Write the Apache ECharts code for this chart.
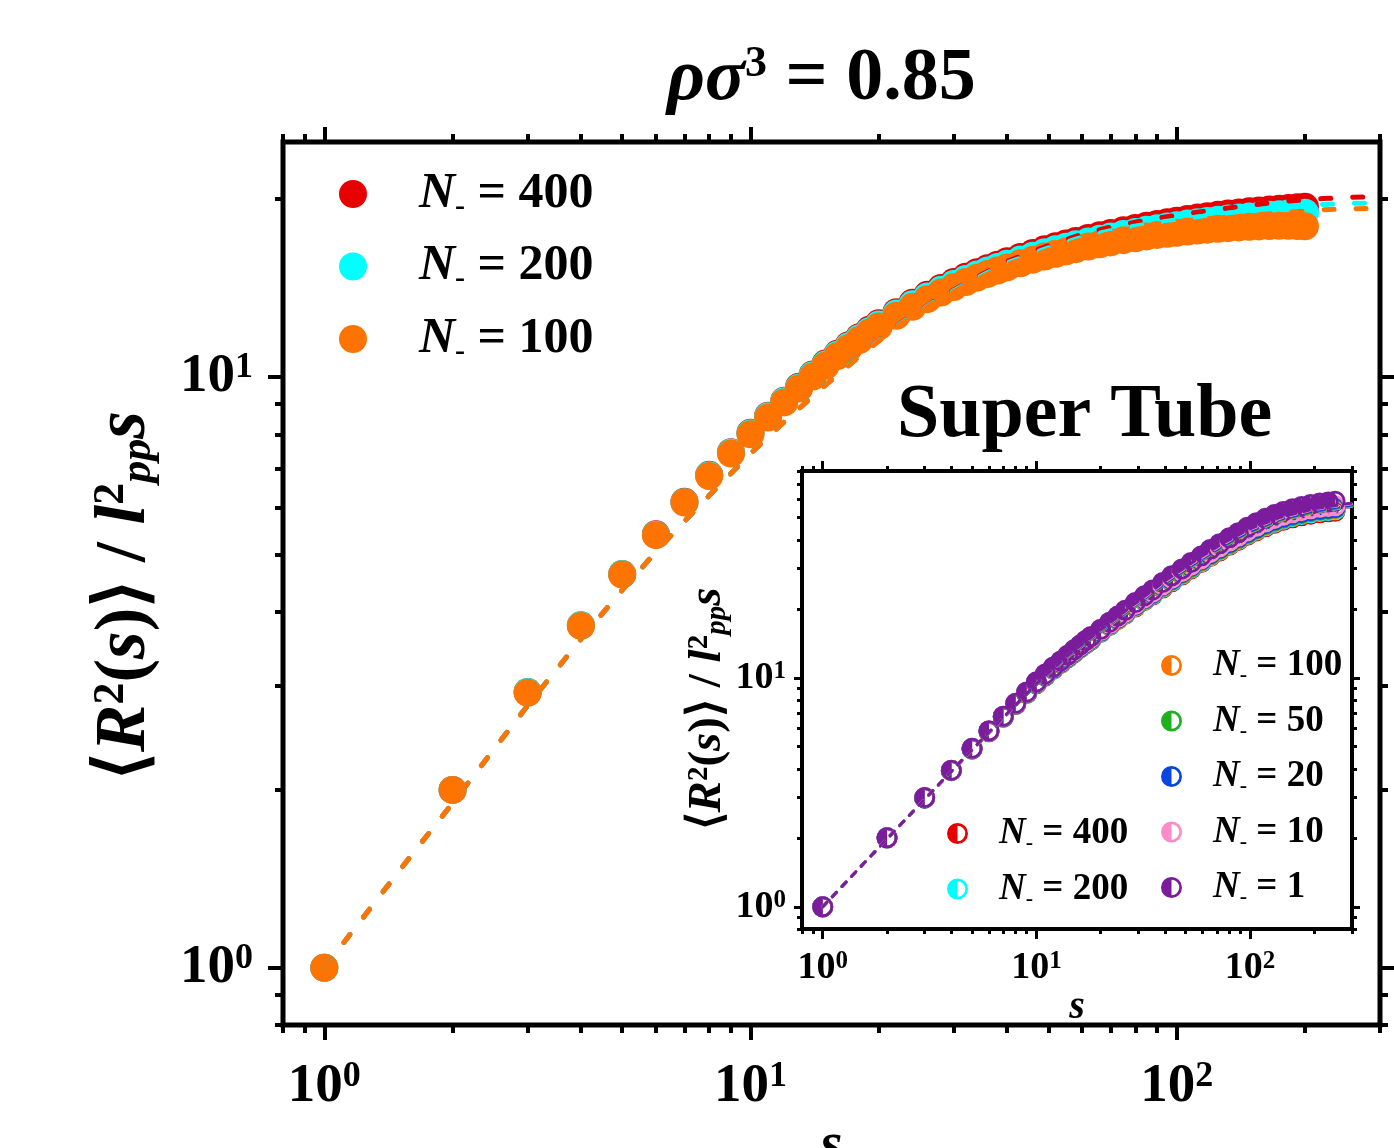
<!DOCTYPE html>
<html>
<head>
<meta charset="utf-8">
<script src="https://cdn.jsdelivr.net/npm/echarts@6/dist/echarts.min.js"></script>
<style>
  html, body { margin: 0; padding: 0; background: #fff; }
  #main { width: 1394px; height: 1148px; }
</style>
</head>
<body>
<div id="main"></div>
<script>
// ---- main panel data (s, <R^2(s)>/l^2 s) ----
var sMain = [1,2,3,4,5,6,7,8,9,10,11,12,13,14,15,16,17,18,19,20,22,24,26,28,30,32,34,36,38,40,43,46,49,52,55,58,62,66,70,75,80,85,90,95,100,106,112,118,125,132,140,148,156,165,174,183,192,200];
var n400Main = [1.00,2.00,2.93,3.80,4.64,5.42,6.15,6.83,7.46,8.05,8.60,9.12,9.63,10.1,10.54,10.95,11.32,11.68,12.02,12.33,12.88,13.36,13.78,14.15,14.48,14.78,15.05,15.29,15.5,15.7,15.97,16.22,16.45,16.65,16.83,17.0,17.2,17.38,17.54,17.72,17.88,18.03,18.16,18.28,18.39,18.51,18.62,18.72,18.82,18.91,19.0,19.08,19.15,19.22,19.28,19.33,19.38,19.42];
var n200Main = [1.00,2.00,2.93,3.80,4.64,5.41,6.14,6.82,7.45,8.03,8.58,9.1,9.6,10.07,10.5,10.91,11.28,11.63,11.96,12.27,12.81,13.28,13.69,14.05,14.37,14.66,14.92,15.15,15.36,15.55,15.81,16.05,16.26,16.45,16.62,16.78,16.97,17.14,17.29,17.46,17.61,17.75,17.87,17.98,18.08,18.19,18.29,18.38,18.47,18.55,18.63,18.7,18.76,18.82,18.87,18.91,18.95,18.98];
var n100Main = [1.00,2.00,2.92,3.79,4.63,5.40,6.13,6.80,7.42,8.00,8.54,9.06,9.56,10.02,10.45,10.85,11.2,11.55,11.88,12.18,12.7,13.15,13.55,13.9,14.2,14.48,14.73,14.95,15.15,15.33,15.58,15.8,16.0,16.17,16.32,16.46,16.63,16.78,16.9,17.05,17.18,17.3,17.4,17.48,17.55,17.63,17.7,17.76,17.82,17.87,17.92,17.96,17.99,18.02,18.03,18.03,18.02,18.0];

// dashed fits, main panel
var sFit = [1,1.5,2,3,4,5,6,7,8,10,12,15,18,22,27,33,40,50,60,70,85,100,120,150,180,220,260,300];
var fit400 = [1.0,1.46,1.9,2.78,3.6,4.36,5.06,5.7,6.3,7.42,8.4,9.7,10.85,12.2,13.45,14.6,15.7,16.7,17.45,17.95,18.45,18.8,19.15,19.55,19.85,20.05,20.15,20.2];
var fit200 = [1.0,1.46,1.9,2.78,3.6,4.36,5.06,5.7,6.3,7.42,8.4,9.7,10.84,12.18,13.42,14.55,15.6,16.55,17.25,17.7,18.15,18.45,18.8,19.15,19.4,19.6,19.68,19.72];
var fit100 = [1.0,1.46,1.9,2.78,3.6,4.36,5.06,5.7,6.3,7.42,8.4,9.69,10.82,12.15,13.38,14.48,15.5,16.4,17.1,17.5,17.9,18.15,18.45,18.8,19.0,19.2,19.27,19.3];

// ---- inset (Super Tube) data ----
var sIn = [1,2,3,4,5,6,7,8,9,10,11,12,13,14,15,16,17,18,20,22,24,26,29,32,35,39,43,48,53,59,65,72,80,88,97,107,118,130,143,158,174,192,212,232,250];
var in400 = [1.0,2.0,2.99,3.93,4.88,5.81,6.72,7.64,8.54,9.42,10.18,10.89,11.56,12.21,12.86,13.47,14.07,14.63,15.8,16.92,17.94,18.93,20.38,21.72,22.98,24.68,26.25,28.08,29.9,31.85,33.85,35.8,37.9,39.8,41.9,43.8,45.65,47.3,48.75,49.95,50.95,51.85,52.6,53.05,53.4];
var in200 = [1.0,2.0,2.99,3.93,4.89,5.82,6.74,7.66,8.56,9.45,10.22,10.93,11.6,12.26,12.91,13.53,14.13,14.7,15.88,17.0,18.02,19.03,20.5,21.86,23.13,24.85,26.45,28.3,30.15,32.1,34.1,36.05,38.15,40.1,42.2,44.2,46.1,47.8,49.3,50.55,51.6,52.55,53.3,53.8,54.2];
var in100 = [1.0,2.0,2.99,3.93,4.9,5.83,6.75,7.67,8.58,9.48,10.25,10.97,11.64,12.3,12.96,13.58,14.19,14.76,15.94,17.07,18.1,19.12,20.6,21.98,23.27,25.0,26.62,28.5,30.35,32.3,34.35,36.3,38.45,40.4,42.55,44.55,46.45,48.2,49.7,51.0,52.05,53.05,53.85,54.35,54.8];
var in50 = [1.0,2.0,2.99,3.94,4.9,5.84,6.76,7.69,8.6,9.5,10.28,11.0,11.67,12.33,13.0,13.62,14.23,14.8,15.98,17.12,18.15,19.18,20.68,22.07,23.36,25.12,26.76,28.64,30.5,32.5,34.55,36.55,38.7,40.65,42.8,44.8,46.75,48.5,50.0,51.3,52.35,53.35,54.15,54.65,55.1];
var in20 = [1.0,2.0,2.99,3.94,4.91,5.85,6.77,7.7,8.62,9.52,10.3,11.03,11.7,12.37,13.04,13.66,14.28,14.85,16.05,17.2,18.25,19.3,20.8,22.2,23.5,25.3,26.95,28.85,30.75,32.75,34.8,36.8,39.0,40.95,43.1,45.1,47.1,48.85,50.35,51.7,52.7,53.7,54.5,55.0,55.45];
var in10 = [1.0,2.0,3.0,3.95,4.92,5.86,6.79,7.73,8.65,9.56,10.35,11.08,11.76,12.44,13.12,13.75,14.37,14.95,16.1,17.26,18.32,19.38,20.92,22.35,23.7,25.5,27.2,29.15,31.05,33.05,35.2,37.3,39.55,41.55,43.8,45.85,47.85,49.65,51.25,52.6,53.7,54.7,55.5,56.0,56.35];
var in1 = [1.0,2.0,3.0,3.95,4.92,5.87,6.8,7.75,8.68,9.6,10.4,11.15,11.85,12.55,13.25,13.9,14.55,15.15,16.3,17.5,18.6,19.7,21.3,22.8,24.2,26.1,27.9,29.9,31.9,34.0,36.3,38.5,40.9,43.0,45.4,47.6,49.7,51.6,53.3,54.8,56.0,57.1,58.0,58.6,59.0];

var sFitIn = [1,2,3,5,7,10,14,20,28,40,55,75,100,140,200,300];
var fitIn400 = [1,1.98,2.94,4.83,6.66,9.33,12.28,15.8,19.95,25.6,31.2,37.3,43.1,48.6,52.8,56.0];
var fitIn200 = [1,1.98,2.95,4.84,6.67,9.34,12.3,15.85,20.0,25.65,31.25,37.4,43.2,48.7,52.9,56.1];
var fitIn100 = [1,1.98,2.95,4.84,6.68,9.35,12.33,15.9,20.1,25.7,31.35,37.55,43.35,48.9,53.1,56.35];
var fitIn50 = [1,1.98,2.95,4.84,6.68,9.36,12.35,15.95,20.15,25.8,31.45,37.7,43.55,49.1,53.3,56.6];
var fitIn20 = [1,1.98,2.95,4.85,6.69,9.38,12.4,16.0,20.25,25.9,31.6,37.9,43.8,49.4,53.6,56.9];
var fitIn10 = [1,1.98,2.95,4.85,6.7,9.4,12.45,16.1,20.4,26.2,32.0,38.4,44.4,50.0,54.3,57.6];
var fitIn1 = [1,1.98,2.95,4.86,6.72,9.42,12.5,16.2,20.6,26.5,32.4,38.8,44.8,50.4,54.7,58.0];

// tick positions
var xMajor = [1, 10, 100];
var xMinor = [0.8,0.9,2,3,4,5,6,7,8,9,20,30,40,50,60,70,80,90,200,300];
var yMajor = [1, 10];
var yMinorMain = [0.8,0.9,2,3,4,5,6,7,8,9,20];
var yMinorIn = [0.8,0.9,2,3,4,5,6,7,8,9,20,30,40,50,60,70,80];

var RED = '#e60000', CYAN = '#00ffff', ORANGE = '#ff7300', GREEN = '#1fb01f',
    BLUE = '#0a45e0', PINK = '#ff8cc8', PURPLE = '#7a1c9c';
var serif = 'Liberation Serif';
var halfIcon = 'path://M0,-10A10,10,0,1,1,0,10A10,10,0,1,1,0,-10ZM0,-7.4A7.4,7.4,0,1,0,0,7.4A7.4,7.4,0,1,0,0,-7.4ZM0,-7.4A7.4,7.4,0,0,0,0,7.4Z';

function pairs(xs, ys) {
  return xs.map(function (x, i) { return [x, ys[i]]; });
}
function supLabel(v) {
  return '{b|10}{p|' + Math.round(Math.log10(v)) + '}';
}

// two stacked axes per side: long major ticks (+labels) and short minor ticks
function sideAxes(grid, pos, min, max, major, minor, len, w, label, name) {
  var base = {
    type: 'log', logBase: 10, gridIndex: grid, position: pos, min: min, max: max,
    axisLine: { show: false }, splitLine: { show: false }, z: grid ? 9 : 3
  };
  var a = Object.assign({}, base, {
    axisTick: { show: true, customValues: major, length: len[0], lineStyle: { color: '#000', width: w } },
    axisLabel: label ? Object.assign({ customValues: major, formatter: supLabel }, label) : { show: false }
  });
  if (name) Object.assign(a, name);
  var b = Object.assign({}, base, {
    axisTick: { show: true, customValues: minor, length: len[1], lineStyle: { color: '#000', width: w } },
    axisLabel: { show: false }
  });
  return [a, b];
}

function tickLab(fs, margin) {
  var s = Math.round(fs * 0.65);
  return {
    margin: margin,
    rich: {
      b: { fontFamily: serif, fontWeight: 'bold', fontSize: fs, lineHeight: fs, color: '#000' },
      p: { fontFamily: serif, fontWeight: 'bold', fontSize: s, lineHeight: s, verticalAlign: 'top', color: '#000' }
    }
  };
}
var mainXLab = tickLab(55, 34), mainYLab = tickLab(55, 30);
var inXLab = tickLab(38, 20), inYLab = tickLab(38, 16);

function yName(fs) {
  var s = Math.round(fs * 0.62);
  return {
    a: { fontFamily: serif, fontWeight: 'bold', fontSize: fs, color: '#000' },
    r: { fontFamily: serif, fontWeight: 'bold', fontStyle: 'italic', fontSize: fs, color: '#000' },
    p: { fontFamily: serif, fontWeight: 'bold', fontSize: s, verticalAlign: 'top', color: '#000' },
    d: { fontFamily: serif, fontWeight: 'bold', fontStyle: 'italic', fontSize: s, verticalAlign: 'bottom', color: '#000' },
    i: { fontFamily: serif, fontWeight: 'bold', fontStyle: 'italic', fontSize: fs, color: '#000' }
  };
}
var yNameText = '{a|\u27e8}{r|R}{p|2}{a|(}{i|s}{a|)\u27e9 / }{r|l}{p|2}{d|pp}{i|s}';

var xAxes = [].concat(
  sideAxes(0, 'bottom', 0.8, 300, xMajor, xMinor, [15, 8], 4, mainXLab,
    { name: 's', nameLocation: 'middle', nameGap: 86,
      nameTextStyle: { fontFamily: serif, fontWeight: 'bold', fontStyle: 'italic', fontSize: 56, color: '#000' } }),
  sideAxes(0, 'top', 0.8, 300, xMajor, xMinor, [15, 8], 4),
  sideAxes(1, 'bottom', 0.8, 300, xMajor, xMinor, [10, 5], 3, inXLab,
    { name: 's', nameLocation: 'middle', nameGap: 54,
      nameTextStyle: { fontFamily: serif, fontWeight: 'bold', fontStyle: 'italic', fontSize: 40, color: '#000' } }),
  sideAxes(1, 'top', 0.8, 300, xMajor, xMinor, [10, 5], 3)
);
var yAxes = [].concat(
  sideAxes(0, 'left', 0.8, 25, yMajor, yMinorMain, [15, 8], 4, mainYLab,
    { name: yNameText, nameLocation: 'middle', nameRotate: 90, nameGap: 122,
      nameTextStyle: { rich: yName(71), padding: [0, 24, 0, 0] } }),
  sideAxes(0, 'right', 0.8, 25, yMajor, yMinorMain, [15, 8], 4),
  sideAxes(1, 'left', 0.8, 80, yMajor, yMinorIn, [8, 5], 3, inYLab,
    { name: yNameText, nameLocation: 'middle', nameRotate: 90, nameGap: 70,
      nameTextStyle: { rich: yName(47), padding: [0, 18, 0, 0] } }),
  sideAxes(1, 'right', 0.8, 80, yMajor, yMinorIn, [8, 5], 3)
);

function dots(name, xs, ys, color, inset) {
  return {
    name: name, type: 'scatter', xAxisIndex: inset ? 4 : 0, yAxisIndex: inset ? 4 : 0,
    data: pairs(xs, ys), symbol: inset ? halfIcon : 'circle', symbolSize: inset ? 21 : 28,
    itemStyle: { color: color, opacity: 1 }, z: inset ? 10 : 2, silent: true
  };
}
function dash(xs, ys, color, inset) {
  return {
    type: 'line', xAxisIndex: inset ? 4 : 0, yAxisIndex: inset ? 4 : 0,
    data: pairs(xs, ys), showSymbol: false, symbol: 'none', silent: true, z: inset ? 11 : 3,
    lineStyle: { color: color, width: inset ? 3 : 5, type: inset ? [6, 8] : [10, 22], cap: 'round' }
  };
}

var labelOf = { m400: '400', m200: '200', m100: '100',
  i400: '400', i200: '200', i100: '100', i50: '50', i20: '20', i10: '10', i1: '1' };
function legendRich(fs, lh, pad, subLh) {
  return {
    n: { fontFamily: serif, fontWeight: 'bold', fontStyle: 'italic', fontSize: fs, lineHeight: lh, padding: [0, 0, 0, pad], color: '#000' },
    m: { fontFamily: serif, fontWeight: 'bold', fontSize: Math.round(fs * 0.6), verticalAlign: 'bottom', lineHeight: subLh, color: '#000' },
    t: { fontFamily: serif, fontWeight: 'bold', fontSize: fs, lineHeight: lh, color: '#000' }
  };
}
function legendFmt(name) {
  return '{n|N}{m|-}{t| = ' + labelOf[name] + '}';
}

var chart = echarts.init(document.getElementById('main'));
var option = {
  backgroundColor: '#fff',
  animation: false,
  title: {
    text: '{i|\u03c1\u03c3}{p|3}{t| = 0.85}', left: 662, top: 38,
    textStyle: { rich: {
      i: { fontFamily: serif, fontWeight: 'bold', fontStyle: 'italic', fontSize: 74, lineHeight: 74, color: '#000' },
      p: { fontFamily: serif, fontWeight: 'bold', fontSize: 44, lineHeight: 44, verticalAlign: 'top', color: '#000' },
      t: { fontFamily: serif, fontWeight: 'bold', fontSize: 74, lineHeight: 74, color: '#000' }
    } }
  },
  graphic: [{
    type: 'text', left: 897, top: 378, z: 20,
    style: { text: 'Super Tube', font: 'bold 76px "Liberation Serif"', fill: '#000' }
  }],
  grid: [
    { left: 283, top: 142, width: 1097, height: 883, outerBoundsMode: 'none', containLabel: false,
      show: true, borderColor: '#000', borderWidth: 5, backgroundColor: 'transparent' },
    { left: 802, top: 471, width: 550, height: 458, outerBoundsMode: 'none', containLabel: false,
      show: true, borderColor: '#000', borderWidth: 4, backgroundColor: '#fff', z: 8 }
  ],
  legend: [
    { data: ['m400', 'm200', 'm100'], orient: 'vertical', left: 334, top: 164, itemWidth: 28, itemHeight: 28,
      itemGap: 19.5, icon: 'circle', formatter: legendFmt, selectedMode: false,
      textStyle: { rich: legendRich(50, 56, 47, 16) } },
    { data: [{ name: 'i100', icon: halfIcon }, { name: 'i50', icon: halfIcon }, { name: 'i20', icon: halfIcon },
             { name: 'i10', icon: halfIcon }, { name: 'i1', icon: halfIcon }],
      orient: 'vertical', left: 1156, top: 642, itemWidth: 21, itemHeight: 21, itemGap: 16, z: 12,
      formatter: legendFmt, selectedMode: false, textStyle: { rich: legendRich(37, 42, 26, 12) } },
    { data: [{ name: 'i400', icon: halfIcon }, { name: 'i200', icon: halfIcon }],
      orient: 'vertical', left: 942, top: 810, itemWidth: 21, itemHeight: 21, itemGap: 16, z: 12,
      formatter: legendFmt, selectedMode: false, textStyle: { rich: legendRich(37, 42, 26, 12) } }
  ],
  xAxis: xAxes,
  yAxis: yAxes,
  series: [
    dots('m400', sMain, n400Main, RED),
    dots('m200', sMain, n200Main, CYAN),
    dots('m100', sMain, n100Main, ORANGE),
    dash(sFit, fit400, RED),
    dash(sFit, fit200, CYAN),
    dash(sFit, fit100, ORANGE),
    dots('i400', sIn, in400, RED, true),
    dots('i200', sIn, in200, CYAN, true),
    dots('i100', sIn, in100, ORANGE, true),
    dots('i50', sIn, in50, GREEN, true),
    dots('i20', sIn, in20, BLUE, true),
    dots('i10', sIn, in10, PINK, true),
    dots('i1', sIn, in1, PURPLE, true),
    dash(sFitIn, fitIn400, RED, true),
    dash(sFitIn, fitIn200, CYAN, true),
    dash(sFitIn, fitIn100, ORANGE, true),
    dash(sFitIn, fitIn50, GREEN, true),
    dash(sFitIn, fitIn20, BLUE, true),
    dash(sFitIn, fitIn10, PINK, true),
    dash(sFitIn, fitIn1, PURPLE, true)
  ]
};
chart.setOption(option);
</script>
</body>
</html>
